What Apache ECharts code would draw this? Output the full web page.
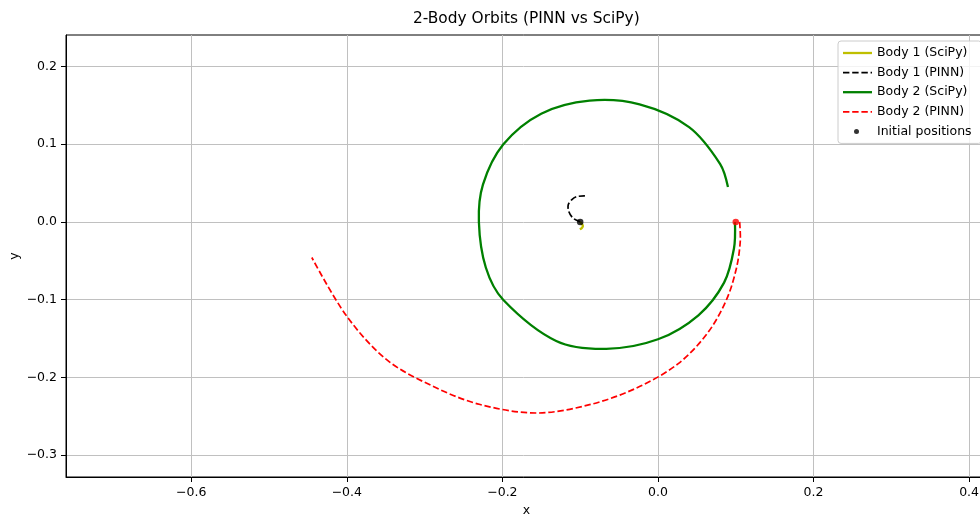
<!DOCTYPE html>
<html>
<head>
<meta charset="utf-8">
<script src="https://cdn.jsdelivr.net/npm/echarts@6/dist/echarts.min.js"></script>
<style>html,body{margin:0;padding:0;background:#fff;overflow:hidden}#c{width:980px;height:516px}</style>
</head>
<body>
<div id="c"></div>
<script>
// ---- data ----
const body1SciPyX = [-0.1003, -0.0975, -0.0965, -0.0980, -0.1005];
const body1SciPyY = [0.0000, -0.0030, -0.0055, -0.0080, -0.0095];

const body1PinnX = [-0.1003, -0.1090, -0.1145, -0.1154, -0.1110, -0.1046, -0.0939];
const body1PinnY = [0.0004, 0.0048, 0.0132, 0.0219, 0.0283, 0.0325, 0.0334];

const body2SciPyX = [0.0990, 0.0977, 0.0850, 0.0520, 0.0000, -0.0665, -0.1308, -0.1990, -0.2213, -0.2302,
  -0.2250, -0.1990, -0.1501, -0.0879, -0.0236, 0.0400, 0.0800, 0.0900];
const body2SciPyY = [0.0000, -0.0342, -0.0780, -0.1200, -0.1509, -0.1632, -0.1530, -0.1000, -0.0586, 0.0000,
  0.0480, 0.0995, 0.1392, 0.1560, 0.1512, 0.1220, 0.0745, 0.0450];

const body2PinnX = [0.1050, 0.1058, 0.1008, 0.0879, 0.0635, 0.0257, -0.0279, -0.0879, -0.1565, -0.2298,
  -0.2898, -0.3480, -0.4000, -0.4450];
const body2PinnY = [0.0000, -0.0250, -0.0598, -0.1004, -0.1432, -0.1825, -0.2137, -0.2350, -0.2457, -0.2345,
  -0.2111, -0.1778, -0.1214, -0.0457];

const initX = [-0.1, 0.1];
const initY = [0.0, 0.0];

const seriesNames = ['Body 1 (SciPy)', 'Body 1 (PINN)', 'Body 2 (SciPy)', 'Body 2 (PINN)', 'Initial positions'];
const xTicks = [-0.6, -0.4, -0.2, 0.0, 0.2, 0.4];
const yTicks = [-0.3, -0.2, -0.1, 0.0, 0.1, 0.2];

// ---- build chart ----
const zip = (xs, ys) => xs.map((x, i) => [x, ys[i]]);
const initColors = ['#000000', '#ff0000'];
const FONT = 'DejaVu Sans';
const LBL = 12.5;
const DASH = [6.4, 2.8];
const fmt = v => (v < -1e-9 ? '\u2212' : '') + Math.abs(v).toFixed(1);

const chart = echarts.init(document.getElementById('c'), null, {renderer: 'canvas', width: 980, height: 516});

// one smooth curve through all points of the series, placed by the cartesian axes
function curveSeries(name, xs, ys, color, width, dash) {
  return {
    name, type: 'custom', coordinateSystem: 'cartesian2d',
    data: zip(xs, ys), encode: {x: 0, y: 1},
    itemStyle: {color}, silent: true,
    renderItem: function (params, api) {
      if (params.dataIndexInside !== 0) return null;
      const pts = [];
      for (let i = 0; i < params.dataInsideLength; i++) {
        pts.push(api.coord([api.value(0, i), api.value(1, i)]));
      }
      return {
        type: 'polyline',
        shape: {points: pts, smooth: 0.33},
        style: {stroke: color, lineWidth: width, lineDash: dash || null, fill: null, lineCap: 'butt', lineJoin: 'round'}
      };
    }
  };
}

const BOX = 'M0,0 M29,0 M29,14 M0,14 ';
const solidIcon = w => 'path://' + BOX + `M0,${7 - w / 2} L29,${7 - w / 2} L29,${7 + w / 2} L0,${7 + w / 2} Z`;
const dashIcon = w => {
  let p = 'path://' + BOX;
  for (let x = 0; x < 29; x += DASH[0] + DASH[1]) {
    const x1 = Math.min(29, x + DASH[0]);
    p += `M${x},${7 - w / 2} L${x1},${7 - w / 2} L${x1},${7 + w / 2} L${x},${7 + w / 2} Z `;
  }
  return p;
};

const option = {
  animation: false,
  backgroundColor: '#ffffff',
  textStyle: {fontFamily: FONT},
  title: {
    text: '2-Body Orbits (PINN vs SciPy)',
    left: 413, top: 11, padding: 0,
    textStyle: {fontFamily: FONT, fontSize: 15.4, fontWeight: 'normal', color: '#000'}
  },
  grid: {
    left: 66, top: 35, width: 921, height: 442,
    outerBoundsMode: 'none', containLabel: false,
    show: true, borderColor: '#000', borderWidth: 1, backgroundColor: 'transparent'
  },
  xAxis: {
    type: 'value', min: -0.761, max: 0.423,
    name: 'x', nameLocation: 'middle', nameGap: 27, nameMoveOverlap: false,
    nameTextStyle: {fontFamily: FONT, fontSize: LBL, color: '#000'},
    axisLine: {show: true, onZero: false, lineStyle: {color: '#000', width: 1}},
    axisTick: {show: true, length: 5, lineStyle: {color: '#000', width: 1}, customValues: xTicks},
    axisLabel: {margin: 9, fontFamily: FONT, fontSize: LBL, color: '#000', formatter: fmt, customValues: xTicks},
    splitLine: {show: true, lineStyle: {color: '#c0c0c0', width: 1}}
  },
  yAxis: {
    type: 'value', min: -0.328, max: 0.2404,
    name: 'y', nameLocation: 'middle', nameGap: 45, nameRotate: 90, nameMoveOverlap: false,
    nameTextStyle: {fontFamily: FONT, fontSize: LBL, color: '#000'},
    axisLine: {show: true, onZero: false, lineStyle: {color: '#000', width: 1}},
    axisTick: {show: true, length: 5, lineStyle: {color: '#000', width: 1}, customValues: yTicks},
    axisLabel: {margin: 9, fontFamily: FONT, fontSize: LBL, color: '#000', formatter: fmt, customValues: yTicks},
    splitLine: {show: true, lineStyle: {color: '#c0c0c0', width: 1}}
  },
  legend: {
    orient: 'vertical', left: 838, top: 41,
    padding: [5, 10, 5, 5], itemGap: 5.6, itemWidth: 29, itemHeight: 14,
    borderColor: '#cccccc', borderWidth: 1, borderRadius: 3,
    backgroundColor: 'rgba(255,255,255,0.8)',
    textStyle: {fontFamily: FONT, fontSize: LBL, lineHeight: 14, color: '#000'},
    selectedMode: false,
    data: [
      {name: seriesNames[0], icon: solidIcon(2.3), itemStyle: {borderWidth: 0}},
      {name: seriesNames[1], icon: dashIcon(1.7), itemStyle: {borderWidth: 0}},
      {name: seriesNames[2], icon: solidIcon(2.3), itemStyle: {borderWidth: 0}},
      {name: seriesNames[3], icon: dashIcon(1.7), itemStyle: {borderWidth: 0}},
      {name: seriesNames[4], icon: 'path://' + BOX + 'M11,7 a2.5,2.5 0 1,0 5,0 a2.5,2.5 0 1,0 -5,0 Z', itemStyle: {borderWidth: 0}}
    ]
  },
  series: [
    curveSeries(seriesNames[0], body1SciPyX, body1SciPyY, '#bfbf00', 2.3),
    curveSeries(seriesNames[1], body1PinnX, body1PinnY, '#000000', 1.7, DASH),
    curveSeries(seriesNames[2], body2SciPyX, body2SciPyY, '#008000', 2.3),
    curveSeries(seriesNames[3], body2PinnX, body2PinnY, '#ff0000', 1.7, DASH),
    {
      name: seriesNames[4], type: 'scatter', symbol: 'circle', symbolSize: 6.5,
      itemStyle: {color: '#000000'}, emphasis: {disabled: true},
      data: initX.map((x, i) => ({value: [x, initY[i]], itemStyle: {color: initColors[i]}}))
    }
  ]
};
chart.setOption(option);
</script>
</body>
</html>
